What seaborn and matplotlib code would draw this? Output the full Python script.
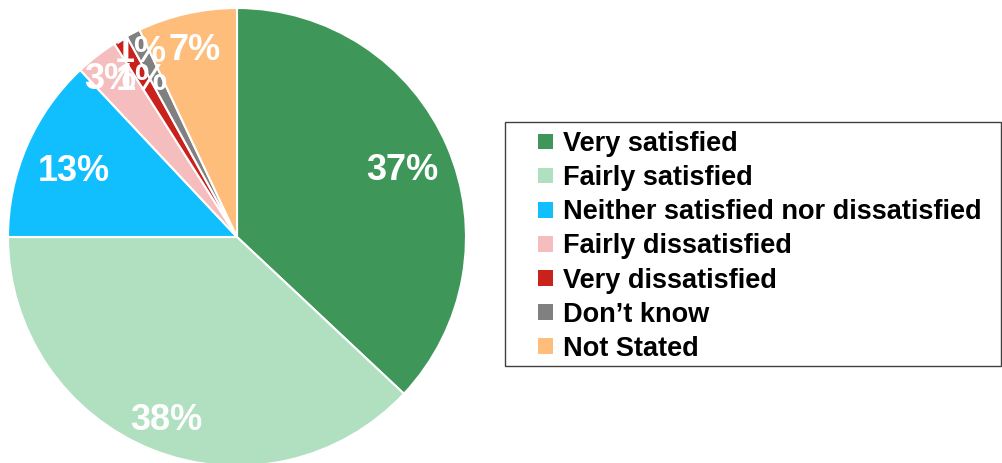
import numpy as np
import matplotlib
matplotlib.use("Agg")
import matplotlib.pyplot as plt
from matplotlib.patches import Rectangle
import seaborn as sns

categories = ["Very satisfied", "Fairly satisfied", "Neither satisfied nor dissatisfied",
              "Fairly dissatisfied", "Very dissatisfied", "Don\u2019t know", "Not Stated"]
shares = [37, 38, 13, 3, 1, 1, 7]
pct_labels = ["37%", "38%", "13%", "3%", "1%", "1%", "7%"]
hex_colors = ["#3E9758", "#B1E0C1", "#12BFFE", "#F5BDBD", "#C9211B", "#808080", "#FEBD7B"]
# radial position of each percentage label, as a fraction of the radius
label_radius = [0.786, 0.84, 0.777, 0.90, 0.82, 0.93, 0.857]

sns.set_theme(style="white")
plt.rcParams["font.family"] = ["Liberation Sans", "DejaVu Sans"]
palette = sns.color_palette(hex_colors)

W, H = 1003, 463
fig = plt.figure(figsize=(W / 100, H / 100), dpi=100)
ax = fig.add_axes([8 / W, -3 / H, 458 / W, 458 / H])

wedges, _ = ax.pie(shares, colors=palette, startangle=90, counterclock=False,
                   radius=1.0, wedgeprops=dict(edgecolor="white", linewidth=1.5))
ax.set_xlim(-1, 1)
ax.set_ylim(-1, 1)
ax.set_aspect("equal")
ax.axis("off")

for w, lab, r in zip(wedges, pct_labels, label_radius):
    mid = np.deg2rad((w.theta1 + w.theta2) / 2)
    ax.annotate(lab, (r * np.cos(mid), r * np.sin(mid)), xytext=(0, -3.5),
                textcoords="offset points", ha="center", va="center",
                color="white", fontsize=26, fontweight="bold", annotation_clip=False)

# legend frame
fig.add_artist(Rectangle((505 / W, 1 - 366 / H), (1001 - 505) / W, (366 - 122) / H,
                         transform=fig.transFigure, facecolor="white",
                         edgecolor="#404040", linewidth=1.0, zorder=1))

leg = fig.legend(wedges, categories, loc="upper left",
                 bbox_to_anchor=(538 / W, 1 - 131 / H), bbox_transform=fig.transFigure,
                 borderaxespad=0, borderpad=0, frameon=False,
                 prop=dict(size=19.5, weight="bold"), labelcolor="black",
                 handlelength=0.56, handleheight=0.52,
                 handletextpad=0.37, labelspacing=0.30)
leg.set_zorder(2)
for h in leg.legend_handles:
    h.set_edgecolor("none")

fig.savefig("out.png", dpi=100)
